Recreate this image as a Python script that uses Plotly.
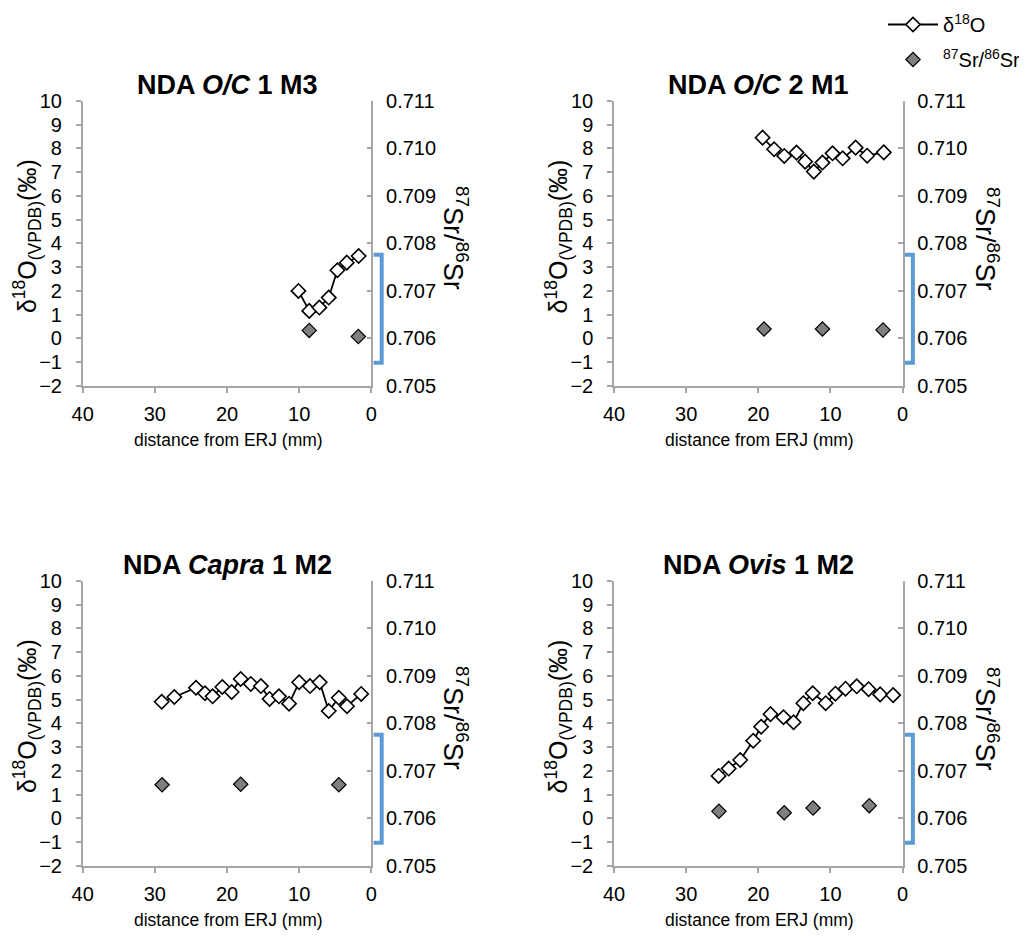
import plotly.graph_objects as go

# ---------------- data (distance from ERJ in mm, values) ----------------
panel_titles = ["<b>NDA <i>O/C</i> 1 M3</b>", "<b>NDA <i>O/C</i> 2 M1</b>",
                "<b>NDA <i>Capra</i> 1 M2</b>", "<b>NDA <i>Ovis</i> 1 M2</b>"]

p1_o_dist = [10.1, 8.6, 7.2, 5.9, 4.7, 3.4, 1.75]
p1_o_val = [2.0, 1.16, 1.3, 1.72, 2.87, 3.19, 3.47]
p1_sr_dist = [8.6, 1.8]
p1_sr_val = [0.70617, 0.70604]

p2_o_dist = [19.4, 17.8, 16.4, 14.7, 13.5, 12.3, 11.1, 9.7, 8.3, 6.5, 4.9, 2.6]
p2_o_val = [8.45, 7.96, 7.68, 7.82, 7.44, 7.02, 7.40, 7.79, 7.58, 8.03, 7.69, 7.83]
p2_sr_dist = [19.2, 11.1, 2.7]
p2_sr_val = [0.70620, 0.70620, 0.70618]

p3_o_dist = [29.05, 27.3, 24.3, 23.05, 22.0, 20.65, 19.35, 18.1, 16.7, 15.3,
             14.1, 12.8, 11.4, 10.0, 8.5, 7.15, 5.9, 4.5, 3.37, 1.4]
p3_o_val = [4.91, 5.11, 5.50, 5.27, 5.14, 5.53, 5.32, 5.87, 5.66, 5.57,
            5.03, 5.14, 4.83, 5.73, 5.57, 5.73, 4.52, 5.08, 4.72, 5.24]
p3_sr_dist = [29.0, 18.1, 4.5]
p3_sr_val = [0.70671, 0.70672, 0.70671]

p4_o_dist = [25.5, 24.1, 22.5, 20.7, 19.6, 18.3, 16.5, 15.1, 13.75, 12.45,
             10.65, 9.3, 7.9, 6.35, 4.7, 3.1, 1.3]
p4_o_val = [1.79, 2.10, 2.46, 3.27, 3.86, 4.39, 4.26, 4.05, 4.85, 5.27,
            4.85, 5.25, 5.46, 5.56, 5.44, 5.22, 5.19]
p4_sr_dist = [25.45, 16.4, 12.4, 4.6]
p4_sr_val = [0.70615, 0.70612, 0.70622, 0.70627]

local_sr_range = [0.70549, 0.70776]   # blue bracket on the Sr axis

x_ticks = [40, 30, 20, 10, 0]
o_ticks = list(range(-2, 11))
sr_ticks = [0.705, 0.706, 0.707, 0.708, 0.709, 0.710, 0.711]

panels = [
    (p1_o_dist, p1_o_val, p1_sr_dist, p1_sr_val),
    (p2_o_dist, p2_o_val, p2_sr_dist, p2_sr_val),
    (p3_o_dist, p3_o_val, p3_sr_dist, p3_sr_val),
    (p4_o_dist, p4_o_val, p4_sr_dist, p4_sr_val),
]

# ---------------- layout geometry ----------------
W, H = 1027, 936
OFF = 8  # page body margin offsets the figure by 8 px
FONT = "Liberation Sans, Arial, sans-serif"
AX_COL = "#A6A6A6"
BLUE = "#5B9BD5"
TICK_SIZE = 20


def px(xp):
    return (xp - OFF) / W


def py(yp):
    return 1 - (yp - OFF) / H


col_px = [(82.7, 371.3), (614.0, 902.5)]
row_px = [(100.8, 386.0), (580.8, 866.0)]

fig = go.Figure()
layout = dict(
    width=W, height=H,
    margin=dict(l=0, r=0, t=0, b=0, autoexpand=False),
    paper_bgcolor="white", plot_bgcolor="white",
    font=dict(family=FONT, size=18, color="black"),
    showlegend=True,
    legend=dict(x=px(1026), y=py(5), xanchor="right", yanchor="top",
                itemwidth=50, tracegroupgap=6,
                font=dict(family=FONT, size=20), bgcolor="rgba(0,0,0,0)"),
)
annotations = []
shapes = []

for i, (od, ov, sd, sv) in enumerate(panels):
    r, c = divmod(i, 2)
    n = i + 1
    xa = f"x{n}" if n > 1 else "x"
    yl_n = 2 * i + 1
    yr_n = 2 * i + 2
    yl = f"y{yl_n}" if yl_n > 1 else "y"
    yr = f"y{yr_n}"
    x0, x1 = col_px[c]
    yt, yb = row_px[r]
    xdom = [px(x0), px(x1)]
    ydom = [py(yb), py(yt)]

    fig.add_trace(go.Scatter(
        x=od, y=ov, xaxis=xa, yaxis=yl, mode="lines+markers",
        name="δ<sup>18</sup>O", legendgroup="o", showlegend=(i == 0),
        line=dict(color="black", width=1.8),
        marker=dict(symbol="diamond", size=11, color="white",
                    line=dict(color="black", width=1.6)),
    ))
    fig.add_trace(go.Scatter(
        x=sd, y=sv, xaxis=xa, yaxis=yr, mode="markers",
        name="<sup>87</sup>Sr/<sup>86</sup>Sr", legendgroup="sr", showlegend=(i == 0),
        marker=dict(symbol="diamond", size=11, color="#7F7F7F",
                    line=dict(color="black", width=1.2)),
    ))

    axis_common = dict(showline=True, linecolor=AX_COL, linewidth=1.5,
                       ticks="outside", tickcolor=AX_COL, ticklen=5, tickwidth=1.5,
                       showgrid=False, zeroline=False, automargin=False,
                       tickfont=dict(family=FONT, size=TICK_SIZE, color="black"))
    layout["xaxis" + (str(n) if n > 1 else "")] = dict(
        axis_common, domain=xdom, anchor=yl, range=[40, 0],
        tickvals=x_ticks, ticklabelstandoff=4)
    layout["yaxis" + (str(yl_n) if yl_n > 1 else "")] = dict(
        axis_common, domain=ydom, anchor=xa, range=[-2, 10],
        tickvals=o_ticks, ticklabelstandoff=10)
    layout["yaxis" + str(yr_n)] = dict(
        axis_common, overlaying=yl, side="right", anchor=xa,
        range=[0.705, 0.711], tickvals=sr_ticks, tickformat=".3f",
        ticks="inside", ticklabelstandoff=9)

    # blue bracket (local Sr range) just right of the Sr axis
    lo, hi = local_sr_range
    shapes.append(dict(
        type="path", xref=f"{xa} domain", yref=yr,
        path=f"M 1.008,{hi} L 1.036,{hi} L 1.036,{lo} L 1.008,{lo}",
        line=dict(color=BLUE, width=4)))

    cx = (x0 + x1) / 2
    # panel title
    annotations.append(dict(text=panel_titles[i], x=px(cx), y=py(yt - 16),
                            xref="paper", yref="paper", showarrow=False,
                            font=dict(family=FONT, size=27, color="black"),
                            xanchor="center", yanchor="middle"))
    # x-axis title
    annotations.append(dict(text="distance from ERJ (mm)", x=px(cx + 1),
                            y=py(yb + 54), xref="paper", yref="paper",
                            showarrow=False, font=dict(family=FONT, size=17.5),
                            xanchor="center", yanchor="middle"))
    # left y title
    annotations.append(dict(text="δ<sup>18</sup>O<sub>(VPDB)</sub>(‰)",
                            x=px(x0 - 55), y=py((yt + yb) / 2 - 7),
                            xref="paper", yref="paper", showarrow=False,
                            textangle=-90, font=dict(family=FONT, size=25),
                            xanchor="center", yanchor="middle"))
    # right y title
    annotations.append(dict(text="<sup>87</sup>Sr/<sup>86</sup>Sr",
                            x=px(x1 + 84), y=py((yt + yb) / 2 - 5),
                            xref="paper", yref="paper", showarrow=False,
                            textangle=90, font=dict(family=FONT, size=27),
                            xanchor="center", yanchor="middle"))

layout["annotations"] = annotations
layout["shapes"] = shapes
fig.update_layout(**layout)
fig.write_html("out.html")
